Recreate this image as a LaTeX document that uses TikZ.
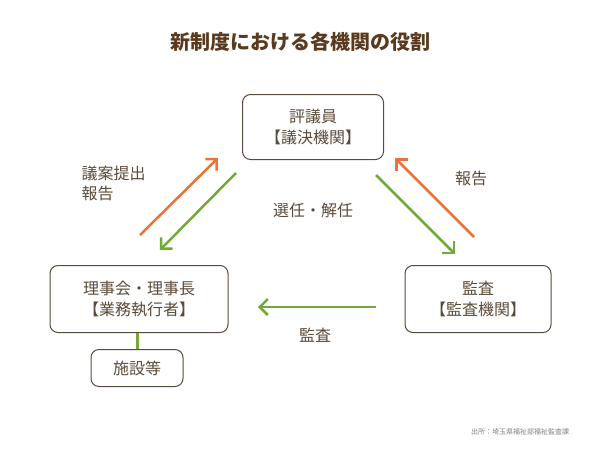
\documentclass[tikz,border=0pt]{standalone}
\usepackage{fontspec}
\setmainfont{Noto Sans CJK JP}
\usetikzlibrary{arrows.meta,positioning}
\definecolor{orangeline}{HTML}{E8743B}
\definecolor{greenline}{HTML}{72A93A}
\definecolor{titlebrown}{HTML}{5A3A1E}
\definecolor{boxline}{HTML}{5A4A3A}

\begin{document}
\begin{tikzpicture}[x=1pt,y=-1pt,box/.style={draw=boxline,line width=1pt,rounded corners=8pt,align=center,font=\fontsize{16}{21}\selectfont,text=boxline},orgarrow/.style={line width=2.5pt,draw=orangeline,-{Straight Barb[length=8pt,width=16pt,line width=2.5pt]}},grnarrow/.style={line width=2.5pt,draw=greenline,-{Straight Barb[length=8pt,width=16pt,line width=2.5pt]}},lbl/.style={font=\fontsize{16}{20}\selectfont,text=boxline,align=left}]
\useasboundingbox (0,0) rectangle (600,450);
\node (title) [font=\bfseries\fontsize{20}{24}\selectfont,text=titlebrown] at (300,42) {新制度における各機関の役割};
\node (council)[box,minimum width=141pt,minimum height=65pt] at (313,127) {評議員\\【議決機関】};
\node (board)[box,minimum width=178pt,minimum height=67pt] at (139,299) {理事会・理事長\\【業務執行者】};
\node (audit)[box,minimum width=146pt,minimum height=67pt] at (478,299) {監査\\【監査機関】};
\node (facility)[box,minimum width=92pt,minimum height=37pt] at (137,368) {施設等};
% arrows
\coordinate (o1s) at (140,235); \coordinate (o1e) at (218,158);
\coordinate (g1s) at (236,173); \coordinate (g1e) at (160,250);
\coordinate (g2s) at (376,175); \coordinate (g2e) at (455,254);
\coordinate (o2s) at (474,237); \coordinate (o2e) at (395,158);
\coordinate (g3s) at (376,307); \coordinate (g3e) at (258,307);
\draw [orgarrow] (o1s) to (o1e);
\draw [grnarrow] (g1s) to (g1e);
\draw [grnarrow] (g2s) to (g2e);
\draw [orgarrow] (o2s) to (o2e);
\draw [grnarrow] (g3s) to (g3e);
\draw [line width=3pt,draw=greenline] (board.south -| facility.north) to (facility.north);
% labels
\node (proposal)[lbl,anchor=west] at (78,183) {議案提出\\報告};
\node (elect)[lbl] at (313,210) {選任・解任};
\node (report)[lbl] at (471,178) {報告};
\node (check)[lbl] at (315,335) {監査};
\node (source)[font=\fontsize{7}{8}\selectfont,text=gray] at (520,432) {出所：埼玉県福祉部福祉監査課};
\end{tikzpicture}
\end{document}
